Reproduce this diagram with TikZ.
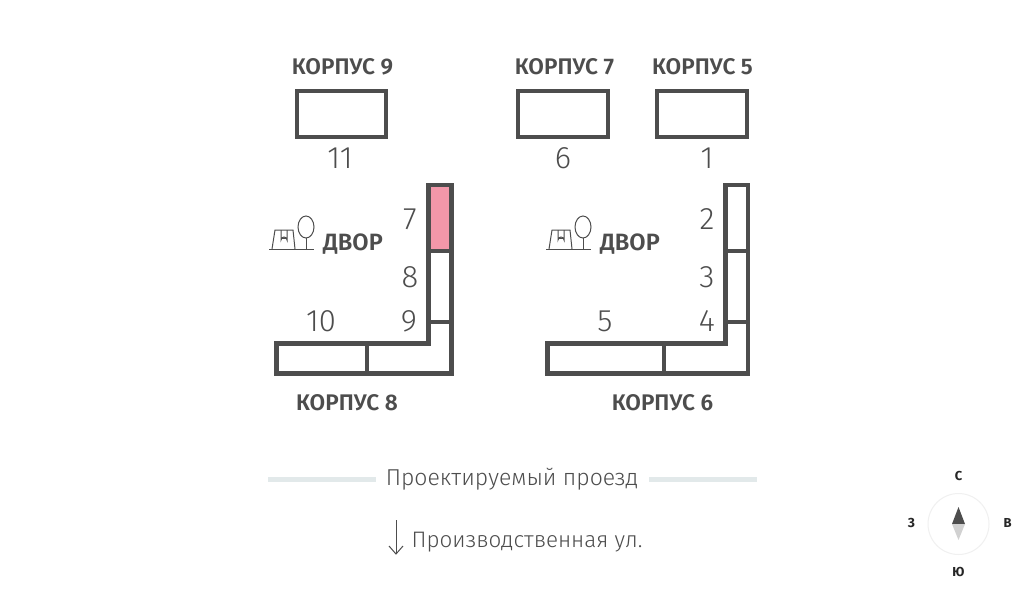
\documentclass[tikz,border=0pt]{standalone}
\usepackage{fontspec}
\setmainfont{Fira Sans}
\newfontfamily\lightf{Fira Sans Light}
\newfontfamily\boldf{Fira Sans SemiBold}
\definecolor{ink}{HTML}{4D4D4D}
\definecolor{pinkfill}{HTML}{F297A9}
\definecolor{road}{HTML}{E2E9EA}
\tikzset{
  x=1pt,y=-1pt,
  wall/.style={draw=ink,line width=4.2pt,line join=miter,fill=white},
  part/.style={draw=ink,line width=4.2pt},
  korp/.style={font=\boldf\fontsize{22.6}{24}\selectfont,text=ink,inner sep=0pt},
  dvor/.style={font=\boldf\fontsize{23.6}{24}\selectfont,text=ink,inner sep=0pt},
  num/.style={font=\lightf\fontsize{31}{32}\selectfont,text=ink,inner sep=0pt},
  street/.style={font=\lightf\fontsize{23}{24}\selectfont,text=ink,inner sep=0pt},
  street2/.style={font=\lightf\fontsize{22.4}{24}\selectfont,text=ink,inner sep=0pt},
  cmp/.style={font=\fontsize{13}{14}\selectfont\bfseries,text=black!85,inner sep=0pt},
  icon/.style={draw=ink,line width=1pt},
  roadline/.style={draw=road,line width=5pt}
}
\newcommand{\playicon}[2]{%
  \begin{scope}[shift={(#1,#2)}]
    \draw[icon] (0,0) -- (45,0);
    \draw[icon] (3,0) -- (6,-19) -- (24,-19) -- (26,0);
    \draw[icon] (12,-19) -- (12,-9) arc[start angle=180,end angle=360,radius=3] -- (18,-19);
    \draw[icon] (12,-11) -- (18,-11);
    \draw[icon] (37,0) -- (37,-11);
    \draw[icon] (37,-22) ellipse[x radius=8,y radius=11];
  \end{scope}}
\begin{document}
\begin{tikzpicture}
\useasboundingbox (0,0) rectangle (1024,589);
\fill[white] (0,0) rectangle (1024,589);
% top buildings
\node[wall,minimum width=89pt,minimum height=46pt,inner sep=0pt] (b11) at (341.5,114) {};
\node[wall,minimum width=90pt,minimum height=46pt,inner sep=0pt] (b6) at (563,114) {};
\node[wall,minimum width=90pt,minimum height=46pt,inner sep=0pt] (b1) at (702,114) {};
\node[korp] (k9) at (342.5,67) {КОРПУС 9};
\node[korp] (k7) at (564.5,67) {КОРПУС 7};
\node[korp] (k5) at (702.5,67) {КОРПУС 5};
\node[num] (n11) at (340,158) {11};
\node[num] (n6) at (563,158) {6};
\node[num] (n1) at (707,158) {1};
% left block
\fill[pinkfill] (428.5,185) rectangle (451.5,251);
\draw[part,line join=miter] (428.5,185) -- (451.5,185) -- (451.5,373.5) -- (276.5,373.5) -- (276.5,343.5) -- (428.5,343.5) -- cycle;
\draw[part] (428.5,251) -- (451.5,251);
\draw[part] (428.5,322) -- (451.5,322);
\draw[part] (367,343.5) -- (367,373.5);
\node[num] (n7) at (410,219) {7};
\node[num] (n8) at (410,277) {8};
\node[num] (n9) at (409,321) {9};
\node[num] (n10) at (321,321) {10};
\playicon{269}{249}
\node[dvor] (d1) at (353,244) {ДВОР};
\node[korp] (k8) at (347,402.5) {КОРПУС 8};
% right block
\draw[part,line join=miter] (725.5,185) -- (748,185) -- (748,373.5) -- (547.5,373.5) -- (547.5,343.5) -- (725.5,343.5) -- cycle;
\draw[part] (725.5,251) -- (748,251);
\draw[part] (725.5,322) -- (748,322);
\draw[part] (664,343.5) -- (664,373.5);
\node[num] (n2) at (707,219) {2};
\node[num] (n3) at (707,277) {3};
\node[num] (n4) at (707,321) {4};
\node[num] (n5) at (605,321) {5};
\playicon{546}{249}
\node[dvor] (d2) at (630,244) {ДВОР};
\node[korp] (k6) at (662.5,402.5) {КОРПУС 6};
% street
\coordinate (r1a) at (268,479);
\coordinate (r1b) at (376,479);
\coordinate (r2a) at (649,479);
\coordinate (r2b) at (757,479);
\draw[roadline] (r1a) -- (r1b);
\draw[roadline] (r2a) -- (r2b);
\node[street] (pr) at (512,479) {Проектируемый проезд};
\node[street2] (ul) at (527,542) {Производственная ул.};
\coordinate (a1) at (396,520);
\coordinate (a2) at (396,554);
\draw[draw=ink,line width=1pt] (a1) -- (a2);
\draw[draw=ink,line width=1pt] (389,546) -- (a2) -- (403,546);
% compass
\node[circle,draw=black!6,line width=1pt,minimum size=61pt,inner sep=0pt,fill=white] (cc) at (958.5,524) {};
\fill[ink] (958.5,507) -- (965,524) -- (952,524) -- cycle;
\fill[black!18] (958.5,540) -- (965,524) -- (952,524) -- cycle;
\node[cmp] (cn) at (958.5,476) {С};
\node[cmp] (cs) at (958.5,572) {Ю};
\node[cmp] (cw) at (911.5,523) {З};
\node[cmp] (ce) at (1007.5,523) {В};
\end{tikzpicture}
\end{document}
